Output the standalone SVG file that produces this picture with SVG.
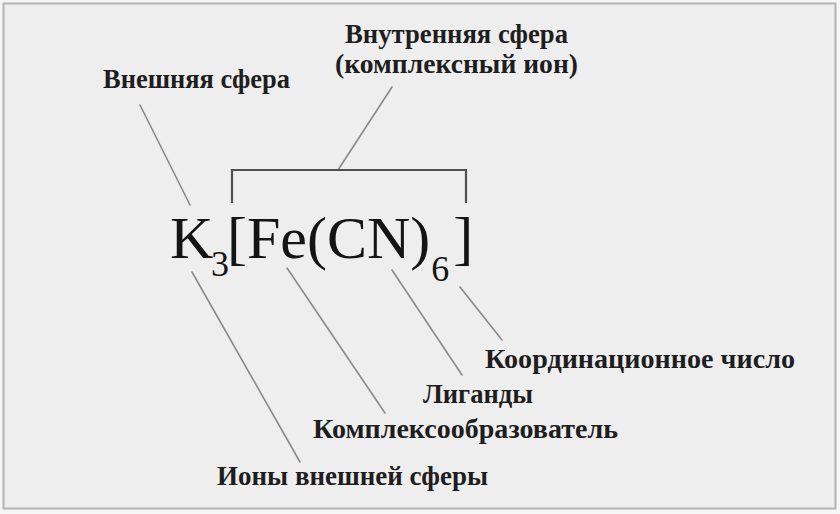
<svg xmlns="http://www.w3.org/2000/svg" width="840" height="514" viewBox="0 0 840 514">
  <style>
    .lbl { font-weight: bold; font-size: 27px; fill: #1e1e1e; }
    .formula { font-size: 60px; fill: #141414; }
    .sub { font-size: 36px; }
    .lead { stroke: #8a8a8a; stroke-width: 1.6; fill: none; stroke-linecap: round; }
    .brk { stroke: #505050; stroke-width: 2.2; fill: none; }
  </style>
  <rect x="0" y="0" width="840" height="514" fill="#f6f6f6"/>
  <rect x="3.5" y="3.5" width="832" height="505" fill="#efeeef" stroke="#b4b4b4" stroke-width="2"/>

  <g id="connectors">
    <line class="lead" x1="140" y1="105" x2="190" y2="205"/>
    <line class="lead" x1="392" y1="87" x2="338" y2="170"/>
    <path class="brk" d="M232,203 V170 H466 V203"/>
    <line class="lead" x1="192" y1="272" x2="300" y2="462"/>
    <line class="lead" x1="287" y1="268" x2="385" y2="413"/>
    <line class="lead" x1="392" y1="270" x2="462" y2="375"/>
    <line class="lead" x1="460" y1="287" x2="502" y2="340"/>
  </g>

  <g id="formula" font-family="Liberation Serif, Times New Roman, serif">
    <text class="formula" x="170" y="258">K<tspan class="sub" x="211" y="276">3</tspan><tspan x="227" y="258">[Fe(CN)</tspan><tspan class="sub" dx="1" y="281">6</tspan><tspan dx="4" y="258">]</tspan></text>
  </g>

  <g font-family="Liberation Serif, Times New Roman, serif">
    <g id="outer-sphere">
      <text class="lbl" x="103" y="88" textLength="187" lengthAdjust="spacingAndGlyphs">Внешняя сфера</text>
    </g>
    <g id="inner-sphere">
      <text class="lbl" x="345" y="43" textLength="223" lengthAdjust="spacingAndGlyphs">Внутренняя сфера</text>
      <text class="lbl" x="335" y="73" textLength="243" lengthAdjust="spacingAndGlyphs">(комплексный ион)</text>
    </g>
    <g id="coordination-number">
      <text class="lbl" x="485" y="368" textLength="310" lengthAdjust="spacingAndGlyphs">Координационное число</text>
    </g>
    <g id="ligands">
      <text class="lbl" x="423" y="403" textLength="110" lengthAdjust="spacingAndGlyphs">Лиганды</text>
    </g>
    <g id="complexing-agent">
      <text class="lbl" x="313" y="438" textLength="305" lengthAdjust="spacingAndGlyphs">Комплексообразователь</text>
    </g>
    <g id="outer-ions">
      <text class="lbl" x="217" y="485" textLength="271" lengthAdjust="spacingAndGlyphs">Ионы внешней сферы</text>
    </g>
  </g>
</svg>
